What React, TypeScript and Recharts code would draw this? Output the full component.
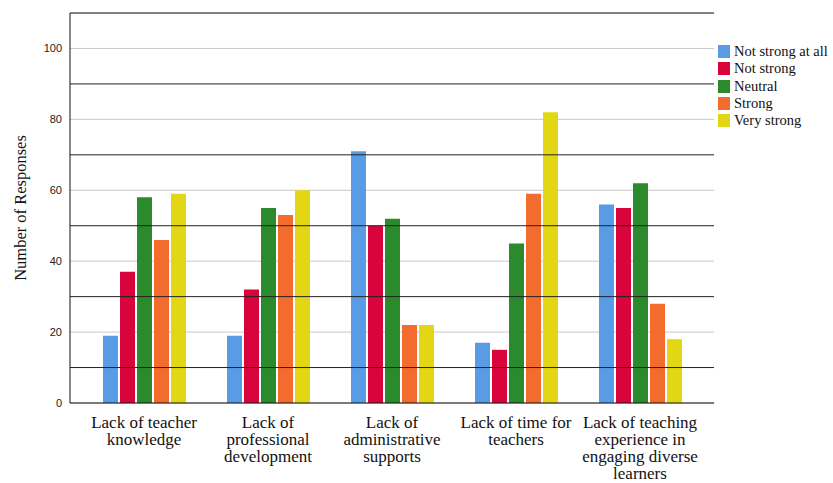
import React from "react";
import { BarChart, Bar, XAxis, YAxis, CartesianGrid, ReferenceLine, Label } from "recharts";

const categories = [
  "Lack of teacher\nknowledge",
  "Lack of\nprofessional\ndevelopment",
  "Lack of\nadministrative\nsupports",
  "Lack of time for\nteachers",
  "Lack of teaching\nexperience in\nengaging diverse\nlearners",
];
const notStrongAtAll = [19, 19, 71, 17, 56];
const notStrong = [37, 32, 50, 15, 55];
const neutral = [58, 55, 52, 45, 62];
const strong = [46, 53, 22, 59, 28];
const veryStrong = [59, 60, 22, 82, 18];
const yTicks = [0, 20, 40, 60, 80, 100];
const darkLines = [10, 30, 50, 70, 90, 110];

const series = [
  { key: "Not strong at all", values: notStrongAtAll, color: "#5a9be6" },
  { key: "Not strong", values: notStrong, color: "#d9043b" },
  { key: "Neutral", values: neutral, color: "#2b8a2b" },
  { key: "Strong", values: strong, color: "#f46b2e" },
  { key: "Very strong", values: veryStrong, color: "#e3d715" },
];

const data = categories.map((c, i) => {
  const row: any = { name: c };
  series.forEach((s) => (row[s.key] = s.values[i]));
  return row;
});

const serif = "'Liberation Serif', 'Times New Roman', serif";
const sans = "'Liberation Sans', Arial, sans-serif";

const XTick = (props: any) => {
  const { x, y, payload } = props;
  const lines = String(payload.value).split("\n");
  return (
    <g transform={`translate(${x},${y})`}>
      {lines.map((l, i) => (
        <text key={i} x={0} y={16.5 + i * 17.2} textAnchor="middle" fontFamily={serif} fontSize={17} fill="#111">
          {l}
        </text>
      ))}
    </g>
  );
};

export default function App() {
  return (
    <div style={{ position: "absolute", left: 0, top: 0, width: 833, height: 483, background: "#fff" }}>
      <BarChart
        width={833}
        height={483}
        data={data}
        margin={{ top: 13, right: 119, bottom: 0, left: 10 }}
        barCategoryGap={21}
        barGap={2}
      >
        <CartesianGrid horizontal={true} vertical={false} stroke="#c8c8c8" strokeWidth={1} />
        {darkLines.map((v) => (
          <ReferenceLine key={v} y={v} stroke="#222" strokeWidth={1} ifOverflow="extendDomain" />
        ))}
        <XAxis
          dataKey="name"
          interval={0}
          height={80}
          tickLine={false}
          axisLine={{ stroke: "#111" }}
          tick={<XTick />}
          padding={{ left: 12, right: 12 }}
        />
        <YAxis
          domain={[0, 110]}
          ticks={yTicks}
          width={60}
          tickLine={false}
          axisLine={{ stroke: "#111" }}
          tick={{ fontFamily: sans, fontSize: 11, fill: "#222" }}
          tickMargin={2}
        >
          <Label
            value="Number of Responses"
            angle={-90}
            position="insideLeft"
            offset={10}
            style={{ fontFamily: serif, fontSize: 16.5, fill: "#111", textAnchor: "middle" }}
          />
        </YAxis>
        {series.map((s) => (
          <Bar key={s.key} dataKey={s.key} fill={s.color} isAnimationActive={false} />
        ))}
      </BarChart>
      <div style={{ position: "absolute", left: 718, top: 43, fontFamily: serif, fontSize: 14.5, color: "#111" }}>
        {series.map((s) => (
          <div key={s.key} style={{ display: "flex", alignItems: "center", height: 17.3 }}>
            <div style={{ width: 12, height: 13, background: s.color, marginRight: 4 }} />
            <span style={{ whiteSpace: "nowrap" }}>{s.key}</span>
          </div>
        ))}
      </div>
    </div>
  );
}
